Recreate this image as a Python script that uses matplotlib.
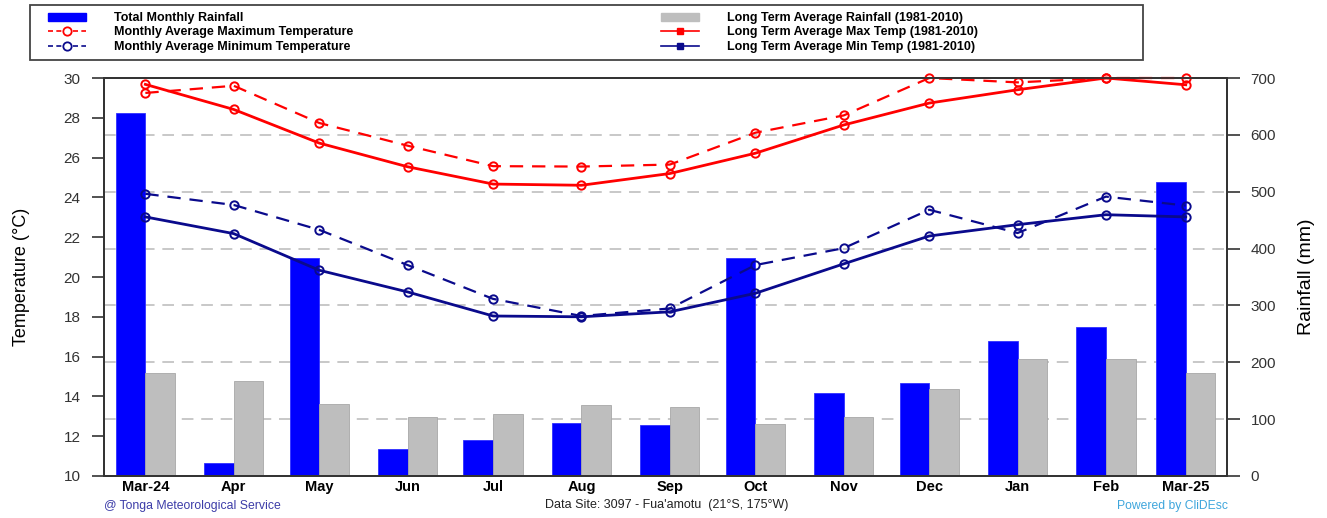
import matplotlib
matplotlib.use("Agg")
import matplotlib.pyplot as plt
import matplotlib.dates as mdates
from matplotlib.lines import Line2D
from matplotlib.patches import Patch, Rectangle
from datetime import date

plt.rcParams['font.family'] = ['Liberation Sans', 'DejaVu Sans']

# data
months = [date(2024, 3, 15), date(2024, 4, 15), date(2024, 5, 15), date(2024, 6, 15),
          date(2024, 7, 15), date(2024, 8, 15), date(2024, 9, 15), date(2024, 10, 15),
          date(2024, 11, 15), date(2024, 12, 15), date(2025, 1, 15), date(2025, 2, 15),
          date(2025, 3, 15)]
month_labels = ['Mar-24', 'Apr', 'May', 'Jun', 'Jul', 'Aug', 'Sep', 'Oct',
                'Nov', 'Dec', 'Jan', 'Feb', 'Mar-25']
rain_total = [638, 22, 384, 47, 64, 94, 89, 384, 146, 163, 237, 262, 517]
rain_lt = [182, 167, 126, 103, 109, 124, 121, 92, 104, 153, 205, 205, 182]
tmax_month = [29.25, 29.61, 27.74, 26.6, 25.57, 25.55, 25.65, 27.25, 28.12, 30.0, 29.78, 30.0, 30.0]
tmin_month = [24.18, 23.62, 22.37, 20.6, 18.9, 18.04, 18.42, 20.6, 21.45, 23.38, 22.21, 24.04, 23.59]
tmax_lt = [29.68, 28.42, 26.73, 25.54, 24.67, 24.61, 25.2, 26.22, 27.64, 28.74, 29.41, 30.0, 29.66]
tmin_lt = [23.02, 22.18, 20.34, 19.25, 18.04, 18.0, 18.25, 19.18, 20.66, 22.06, 22.63, 23.13, 23.02]

RED = '#ff0000'
NAVY = '#0a0a8c'
BLUE = '#0000ff'
GREY = '#bebebe'
SPINE = '#333333'
W, H = 1327, 518

fig = plt.figure(figsize=(W / 100, H / 100), dpi=100)
ax = fig.add_axes([0.0784, 0.0811, 0.8463, 0.7683])
ax2 = ax.twinx()
ax.set_zorder(ax2.get_zorder() + 1)
ax.patch.set_visible(False)

x = mdates.date2num(months)
bw = 10.4
ax2.bar(x - bw / 2, rain_total, width=bw, color=BLUE, edgecolor='#3030ff', linewidth=0.6, zorder=2)
ax2.bar(x + bw / 2, rain_lt, width=bw, color=GREY, edgecolor='#a8a8a8', linewidth=0.6, zorder=2)
ax2.set_ylim(0, 700)
ax2.set_yticks(range(0, 701, 100))
for v in range(100, 700, 100):
    ax2.axhline(v, color='#c8c8c8', lw=1.4, ls=(0, (6, 4)), zorder=1)

mk = dict(marker='o', markersize=6, markerfacecolor='none', markeredgewidth=1.4, clip_on=False)
ax.plot(x, tmax_month, color=RED, lw=1.6, ls=(0, (6, 4)), markeredgecolor=RED, **mk)
ax.plot(x, tmin_month, color=NAVY, lw=1.6, ls=(0, (6, 4)), markeredgecolor=NAVY, **mk)
ax.plot(x, tmax_lt, color=RED, lw=2.0, markeredgecolor=RED, **mk)
ax.plot(x, tmin_lt, color=NAVY, lw=2.0, markeredgecolor=NAVY, **mk)

ax.set_ylim(10, 30)
ax.set_yticks(range(10, 31, 2))
ax.set_xlim(x[0] - 14.5, x[-1] + 14.5)
ax.set_xticks(x)
ax.set_xticklabels(month_labels, fontweight='bold', fontsize=10.5)
ax.tick_params(axis='x', length=0, pad=3)
ax.tick_params(axis='y', length=9, width=1.2, color=SPINE, labelsize=11, labelcolor='#333333', pad=8)
ax2.tick_params(axis='y', length=9, width=1.2, color=SPINE, labelsize=11, labelcolor='#333333', pad=8)
for a in (ax, ax2):
    for s in a.spines.values():
        s.set_color(SPINE)
        s.set_linewidth(1.3)

ax.set_ylabel('Temperature (°C)', fontsize=13, labelpad=24)
ax2.set_ylabel('Rainfall (mm)', fontsize=14, labelpad=16)

# legend: frame drawn separately so it spans the same width as the original
fig.add_artist(Rectangle((30 / W, 1 - 60 / H), (1143 - 30) / W, 55 / H, transform=fig.transFigure,
                         facecolor='white', edgecolor='#444444', linewidth=1.3))
handles = [
    Patch(facecolor=BLUE, edgecolor=BLUE),
    Line2D([], [], color=RED, lw=1.2, ls=(0, (3, 2)), marker='o', markersize=6,
           markerfacecolor='white', markeredgecolor=RED, markeredgewidth=1.3),
    Line2D([], [], color=NAVY, lw=1.2, ls=(0, (3, 2)), marker='o', markersize=6,
           markerfacecolor='white', markeredgecolor=NAVY, markeredgewidth=1.3),
    Patch(facecolor=GREY, edgecolor=GREY),
    Line2D([], [], color=RED, lw=1.2, marker='s', markersize=5, markerfacecolor=RED, markeredgecolor=RED),
    Line2D([], [], color=NAVY, lw=1.2, marker='s', markersize=5, markerfacecolor=NAVY, markeredgecolor=NAVY),
]
labels = ['Total Monthly Rainfall', 'Monthly Average Maximum Temperature',
          'Monthly Average Minimum Temperature', 'Long Term Average Rainfall (1981-2010)',
          'Long Term Average Max Temp (1981-2010)', 'Long Term Average Min Temp (1981-2010)']
leg = fig.legend(handles, labels, ncol=2, loc='upper left', bbox_to_anchor=(48 / W, 1 - 12 / H),
                 prop={'weight': 'bold', 'size': 9}, frameon=False,
                 handlelength=3.0, handleheight=0.6, handletextpad=2.3,
                 labelspacing=0.2, columnspacing=24.6, borderpad=0, borderaxespad=0)

fig.text(104 / W, 1 - 506 / H, '@ Tonga Meteorological Service', fontsize=8.8,
         color='#3c3ca8', va='center', ha='left')
fig.text(667 / W, 1 - 505 / H, "Data Site: 3097 - Fua'amotu  (21°S, 175°W)", fontsize=9,
         color='#222222', va='center', ha='center')
fig.text(1228 / W, 1 - 506 / H, 'Powered by CliDEsc', fontsize=8.7,
         color='#3fa6dc', va='center', ha='right')

fig.savefig('out.png', dpi=100)
